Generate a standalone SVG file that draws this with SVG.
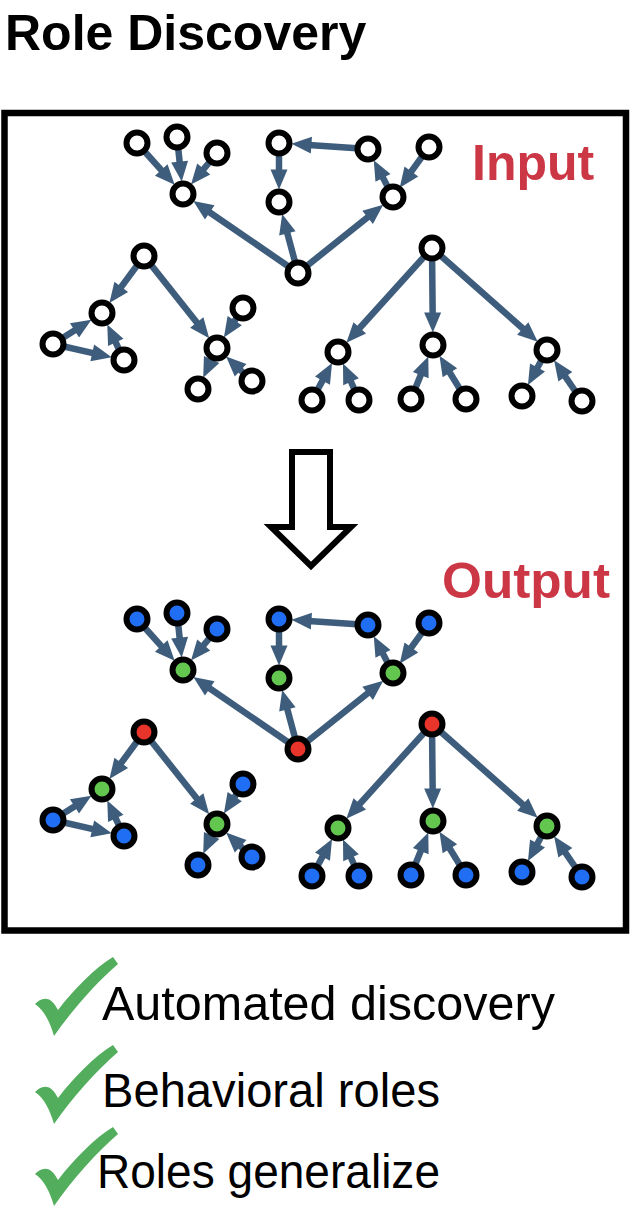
<svg xmlns="http://www.w3.org/2000/svg" xmlns:xlink="http://www.w3.org/1999/xlink" width="642" height="1216" viewBox="0 0 642 1216">
<style>
.title{font-family:"Liberation Sans",Arial,sans-serif;font-weight:bold;font-size:50px;fill:#000}
.lbl{font-family:"Liberation Sans",Arial,sans-serif;font-weight:bold;font-size:50px;fill:#cc3745}
.item{font-family:"Liberation Sans",Arial,sans-serif;font-size:48.5px;fill:#000}
.edges line{stroke:#3e5d7c;stroke-width:6.5;marker-end:url(#ah)}
.node circle{stroke:#000;stroke-width:6}
.w circle{fill:#fff}
.b circle{fill:#1f6ef3}
.g circle{fill:#62c64f}
.r circle{fill:#e8342a}
.chk{fill:#52ad5c}
</style>
<defs>
<marker id="ah" markerUnits="userSpaceOnUse" markerWidth="20" markerHeight="17" viewBox="0 0 20 17" refX="6.5" refY="8.5" orient="auto" overflow="visible">
<path d="M0,0 L20,8.5 L0,17 Z" fill="#3e5d7c"/>
</marker>
<path id="chk" class="chk" d="M35 1004 C41 998 50 994 58 1010 C75 988 95 968 113 957 L118 964 C97 982 72 1010 54 1036 C50 1022 44 1010 35 1004 Z"/>
</defs>
<rect width="642" height="1216" fill="#fff"/>
<text class="title" x="5" y="50">Role Discovery</text>
<rect id="frame" x="4.5" y="113" width="621.5" height="817.5" fill="none" stroke="#000" stroke-width="6.5"/>
<text class="lbl" x="472" y="180">Input</text>
<text class="lbl" x="442" y="598" textLength="168" lengthAdjust="spacingAndGlyphs">Output</text>
<polygon id="bigarrow" points="292,452 330,452 330,527 351,527 311,566 271,527 292,527" fill="#fff" stroke="#000" stroke-width="6"/>

<g id="connectors">
<g id="edges-input" class="edges">
<line x1="137" y1="143" x2="165.6" y2="174.8"/>
<line x1="177" y1="137" x2="180.3" y2="168.1"/>
<line x1="217" y1="153" x2="199.6" y2="174.0"/>
<line x1="298" y1="273" x2="204.4" y2="208.7"/>
<line x1="298" y1="273" x2="285.7" y2="227.1"/>
<line x1="279" y1="143" x2="279" y2="176"/>
<line x1="368" y1="149" x2="304.9" y2="144.7"/>
<line x1="393" y1="197" x2="380.0" y2="172.1"/>
<line x1="429" y1="147" x2="407.6" y2="176.7"/>
<line x1="298" y1="273" x2="372.7" y2="213.2"/>
<line x1="144" y1="256" x2="117.4" y2="292.1"/>
<line x1="53" y1="344" x2="80.0" y2="326.9"/>
<line x1="53" y1="344" x2="98.6" y2="354.3"/>
<line x1="124" y1="360" x2="113.0" y2="336.6"/>
<line x1="144" y1="256" x2="200.8" y2="327.6"/>
<line x1="243" y1="308" x2="231.2" y2="326.2"/>
<line x1="217" y1="348" x2="208.9" y2="365.4"/>
<line x1="252" y1="381" x2="235.9" y2="365.8"/>
<line x1="432" y1="248" x2="355.4" y2="332.7"/>
<line x1="432" y1="248" x2="432.7" y2="319"/>
<line x1="432" y1="248" x2="527.6" y2="332.8"/>
<line x1="312" y1="400" x2="325.6" y2="374.9"/>
<line x1="359" y1="400" x2="348.4" y2="375.8"/>
<line x1="411" y1="399" x2="423.2" y2="369.1"/>
<line x1="466" y1="399" x2="446.5" y2="367.2"/>
<line x1="547" y1="350" x2="534.4" y2="373.2"/>
<line x1="582" y1="401" x2="561.7" y2="371.4"/>
</g>
<g id="edges-output" class="edges" transform="translate(0,476)">
<line x1="137" y1="143" x2="165.6" y2="174.8"/>
<line x1="177" y1="137" x2="180.3" y2="168.1"/>
<line x1="217" y1="153" x2="199.6" y2="174.0"/>
<line x1="298" y1="273" x2="204.4" y2="208.7"/>
<line x1="298" y1="273" x2="285.7" y2="227.1"/>
<line x1="279" y1="143" x2="279" y2="176"/>
<line x1="368" y1="149" x2="304.9" y2="144.7"/>
<line x1="393" y1="197" x2="380.0" y2="172.1"/>
<line x1="429" y1="147" x2="407.6" y2="176.7"/>
<line x1="298" y1="273" x2="372.7" y2="213.2"/>
<line x1="144" y1="256" x2="117.4" y2="292.1"/>
<line x1="53" y1="344" x2="80.0" y2="326.9"/>
<line x1="53" y1="344" x2="98.6" y2="354.3"/>
<line x1="124" y1="360" x2="113.0" y2="336.6"/>
<line x1="144" y1="256" x2="200.8" y2="327.6"/>
<line x1="243" y1="308" x2="231.2" y2="326.2"/>
<line x1="217" y1="348" x2="208.9" y2="365.4"/>
<line x1="252" y1="381" x2="235.9" y2="365.8"/>
<line x1="432" y1="248" x2="355.4" y2="332.7"/>
<line x1="432" y1="248" x2="432.7" y2="319"/>
<line x1="432" y1="248" x2="527.6" y2="332.8"/>
<line x1="312" y1="400" x2="325.6" y2="374.9"/>
<line x1="359" y1="400" x2="348.4" y2="375.8"/>
<line x1="411" y1="399" x2="423.2" y2="369.1"/>
<line x1="466" y1="399" x2="446.5" y2="367.2"/>
<line x1="547" y1="350" x2="534.4" y2="373.2"/>
<line x1="582" y1="401" x2="561.7" y2="371.4"/>
</g>
</g>

<g id="nodes-input">
<g id="in-A1" class="node w"><circle cx="137" cy="143" r="10.5"/></g>
<g id="in-A2" class="node w"><circle cx="177" cy="137" r="10.5"/></g>
<g id="in-A3" class="node w"><circle cx="217" cy="153" r="10.5"/></g>
<g id="in-H1" class="node w"><circle cx="183" cy="194" r="10.5"/></g>
<g id="in-B1" class="node w"><circle cx="279" cy="143" r="10.5"/></g>
<g id="in-B2" class="node w"><circle cx="279" cy="202" r="10.5"/></g>
<g id="in-R" class="node w"><circle cx="298" cy="273" r="10.5"/></g>
<g id="in-B3" class="node w"><circle cx="368" cy="149" r="10.5"/></g>
<g id="in-B4" class="node w"><circle cx="429" cy="147" r="10.5"/></g>
<g id="in-BH" class="node w"><circle cx="393" cy="197" r="10.5"/></g>
<g id="in-CT" class="node w"><circle cx="144" cy="256" r="10.5"/></g>
<g id="in-CH" class="node w"><circle cx="102" cy="313" r="10.5"/></g>
<g id="in-CL" class="node w"><circle cx="53" cy="344" r="10.5"/></g>
<g id="in-CR" class="node w"><circle cx="124" cy="360" r="10.5"/></g>
<g id="in-DH" class="node w"><circle cx="217" cy="348" r="10.5"/></g>
<g id="in-DT" class="node w"><circle cx="243" cy="308" r="10.5"/></g>
<g id="in-DL" class="node w"><circle cx="198" cy="389" r="10.5"/></g>
<g id="in-DR" class="node w"><circle cx="252" cy="381" r="10.5"/></g>
<g id="in-ER" class="node w"><circle cx="432" cy="248" r="10.5"/></g>
<g id="in-E1" class="node w"><circle cx="338" cy="352" r="10.5"/></g>
<g id="in-E2" class="node w"><circle cx="433" cy="345" r="10.5"/></g>
<g id="in-E3" class="node w"><circle cx="547" cy="350" r="10.5"/></g>
<g id="in-L1" class="node w"><circle cx="312" cy="400" r="10.5"/></g>
<g id="in-L2" class="node w"><circle cx="359" cy="400" r="10.5"/></g>
<g id="in-L3" class="node w"><circle cx="411" cy="399" r="10.5"/></g>
<g id="in-L4" class="node w"><circle cx="466" cy="399" r="10.5"/></g>
<g id="in-L5" class="node w"><circle cx="522" cy="396" r="10.5"/></g>
<g id="in-L6" class="node w"><circle cx="582" cy="401" r="10.5"/></g>
</g>

<g id="nodes-output" transform="translate(0,476)">
<g id="out-A1" class="node b"><circle cx="137" cy="143" r="10.5"/></g>
<g id="out-A2" class="node b"><circle cx="177" cy="137" r="10.5"/></g>
<g id="out-A3" class="node b"><circle cx="217" cy="153" r="10.5"/></g>
<g id="out-H1" class="node g"><circle cx="183" cy="194" r="10.5"/></g>
<g id="out-B1" class="node b"><circle cx="279" cy="143" r="10.5"/></g>
<g id="out-B2" class="node g"><circle cx="279" cy="202" r="10.5"/></g>
<g id="out-R" class="node r"><circle cx="298" cy="273" r="10.5"/></g>
<g id="out-B3" class="node b"><circle cx="368" cy="149" r="10.5"/></g>
<g id="out-B4" class="node b"><circle cx="429" cy="147" r="10.5"/></g>
<g id="out-BH" class="node g"><circle cx="393" cy="197" r="10.5"/></g>
<g id="out-CT" class="node r"><circle cx="144" cy="256" r="10.5"/></g>
<g id="out-CH" class="node g"><circle cx="102" cy="313" r="10.5"/></g>
<g id="out-CL" class="node b"><circle cx="53" cy="344" r="10.5"/></g>
<g id="out-CR" class="node b"><circle cx="124" cy="360" r="10.5"/></g>
<g id="out-DH" class="node g"><circle cx="217" cy="348" r="10.5"/></g>
<g id="out-DT" class="node b"><circle cx="243" cy="308" r="10.5"/></g>
<g id="out-DL" class="node b"><circle cx="198" cy="389" r="10.5"/></g>
<g id="out-DR" class="node b"><circle cx="252" cy="381" r="10.5"/></g>
<g id="out-ER" class="node r"><circle cx="432" cy="248" r="10.5"/></g>
<g id="out-E1" class="node g"><circle cx="338" cy="352" r="10.5"/></g>
<g id="out-E2" class="node g"><circle cx="433" cy="345" r="10.5"/></g>
<g id="out-E3" class="node g"><circle cx="547" cy="350" r="10.5"/></g>
<g id="out-L1" class="node b"><circle cx="312" cy="400" r="10.5"/></g>
<g id="out-L2" class="node b"><circle cx="359" cy="400" r="10.5"/></g>
<g id="out-L3" class="node b"><circle cx="411" cy="399" r="10.5"/></g>
<g id="out-L4" class="node b"><circle cx="466" cy="399" r="10.5"/></g>
<g id="out-L5" class="node b"><circle cx="522" cy="396" r="10.5"/></g>
<g id="out-L6" class="node b"><circle cx="582" cy="401" r="10.5"/></g>
</g>

<g id="checklist">
<use xlink:href="#chk"/>
<use xlink:href="#chk" y="88"/>
<use xlink:href="#chk" y="170"/>
<text class="item" x="102" y="1020">Automated discovery</text>
<text class="item" x="102" y="1107" textLength="338" lengthAdjust="spacingAndGlyphs">Behavioral roles</text>
<text class="item" x="97" y="1188" textLength="343" lengthAdjust="spacingAndGlyphs">Roles generalize</text>
</g>
</svg>
